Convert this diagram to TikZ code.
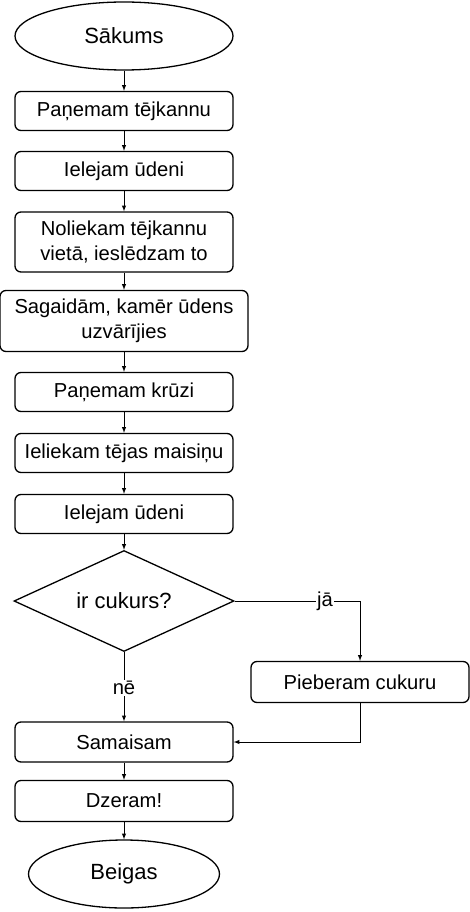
\documentclass[tikz,border=0pt]{standalone}
\usepackage{fontspec}
\setmainfont{Liberation Sans}
\usetikzlibrary{positioning,shapes.geometric}

\begin{document}
\begin{tikzpicture}[-latex, auto, on grid, x=1pt, y=1pt, line width=1pt,
    font=\fontsize{20.2}{25}\selectfont,
    stepbox/.style={rectangle, rounded corners=6pt, draw=black, fill=white, line width=1.3pt, minimum width=218pt, minimum height=39pt, align=center, inner sep=2pt},
    term/.style={ellipse, draw=black, fill=white, line width=1.3pt, minimum width=218pt, minimum height=68pt, inner sep=0pt, font=\fontsize{22}{26}\selectfont},
    decide/.style={diamond, aspect=2.18, draw=black, fill=white, line width=1.3pt, minimum width=220pt, minimum height=101pt, inner sep=0pt, font=\fontsize{22}{26}\selectfont},
    answer/.style={fill=white, inner sep=1pt, anchor=center}]
    \useasboundingbox (0,0) rectangle (470,-912);
    \node [term] (START) at (124,-36) {Sākums};
    \node [stepbox] (KETTLE) [below=75pt of START] {Paņemam tējkannu};
    \node [stepbox] (WATERA) [below=60pt of KETTLE] {Ielejam ūdeni};
    \node [stepbox, minimum height=60pt] (PLACE) [below=71pt of WATERA] {Noliekam tējkannu\\vietā, ieslēdzam to};
    \node [stepbox, minimum width=248pt, minimum height=61pt] (WAIT) [below=79pt of PLACE] {Sagaidām, kamēr ūdens\\uzvārījies};
    \node [stepbox] (CUP) [below=71pt of WAIT] {Paņemam krūzi};
    \node [stepbox] (BAG) [below=61pt of CUP] {Ieliekam tējas maisiņu};
    \node [stepbox] (WATERB) [below=61pt of BAG] {Ielejam ūdeni};
    \node [decide] (SUGARQ) [below=87pt of WATERB] {ir cukurs?};
    \node [stepbox, minimum height=41pt] (SUGAR) [below right=81pt and 236pt of SUGARQ] {Pieberam cukuru};
    \node [stepbox, minimum height=40pt] (STIR) [below=141pt of SUGARQ] {Samaisam};
    \node [stepbox, minimum height=41pt] (DRINK) [below=59pt of STIR] {Dzeram!};
    \node [term, minimum width=191pt] (END) [below=73pt of DRINK] {Beigas};
    \path (START) edge (KETTLE);
    \path (KETTLE) edge (WATERA);
    \path (WATERA) edge (PLACE);
    \path (PLACE) edge (WAIT);
    \path (WAIT) edge (CUP);
    \path (CUP) edge (BAG);
    \path (BAG) edge (WATERB);
    \path (WATERB) edge (SUGARQ);
    \draw (SUGARQ.east) -| node [answer, pos=0.36] {jā} (SUGAR.north);
    \path (SUGARQ) edge node [answer, pos=0.52] {nē} (STIR);
    \draw (SUGAR.south) |- (STIR.east);
    \path (STIR) edge (DRINK);
    \path (DRINK) edge (END);
\end{tikzpicture}
\end{document}
